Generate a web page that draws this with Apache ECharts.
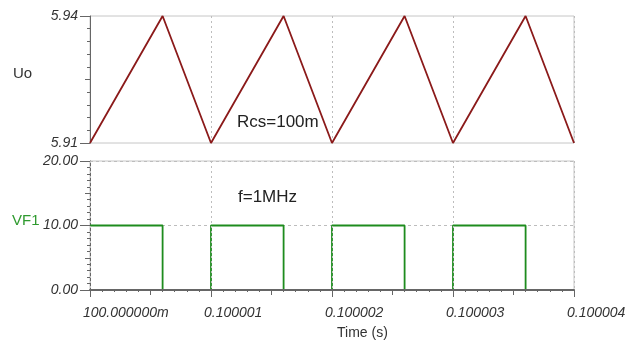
<!DOCTYPE html>
<html>
<head>
<meta charset="utf-8">
<script src="https://cdn.jsdelivr.net/npm/echarts@6/dist/echarts.min.js"></script>
<style>
  html, body { margin: 0; padding: 0; background: #fff; }
  #chart { width: 626px; height: 343px; }
</style>
</head>
<body>
<div id="chart"></div>
<script>
// Time axis in microseconds after t = 100 ms
const xTickLabels = ['100.000000m', '0.100001', '0.100002', '0.100003', '0.100004'];

// Output voltage Uo (V): triangle ripple corners
const uoTime = [0, 0.6, 1, 1.6, 2, 2.6, 3, 3.6, 4];
const uoValue = [5.91, 5.94, 5.91, 5.94, 5.91, 5.94, 5.91, 5.94, 5.91];

// Switch drive VF1 (V): level held from each edge until the next one
const vfTime = [0, 0.6, 1, 1.6, 2, 2.6, 3, 3.6, 4];
const vfValue = [10, 0, 10, 0, 10, 0, 10, 0, 0];

const uoRange = [5.91, 5.94];
const vfRange = [0, 20];

const FONT = '"Liberation Sans", Arial, sans-serif';
const AXIS_DARK = '#666';
const BORDER = '#c6c6c6';
const GRID_LINE = '#bdbdbd';

const chart = echarts.init(document.getElementById('chart'), null, { renderer: 'canvas' });

const labelStyle = { fontFamily: FONT, fontSize: 14, fontStyle: 'italic', color: '#333' };

function pairs(xs, ys) { return xs.map((x, i) => [x, ys[i]]); }

const option = {
  animation: false,
  backgroundColor: '#fff',
  grid: [
    { left: 90, right: 52, top: 16, height: 127, outerBoundsMode: 'none', containLabel: false,
      show: true, borderColor: BORDER, borderWidth: 1, backgroundColor: 'transparent' },
    { left: 90, right: 52, top: 161, height: 129, outerBoundsMode: 'none', containLabel: false,
      show: true, borderColor: BORDER, borderWidth: 1, backgroundColor: 'transparent' }
  ],
  xAxis: [
    { // upper plot time axis: grid lines only
      type: 'value', gridIndex: 0, position: 'bottom', min: 0, max: 4, interval: 1,
      axisLine: { show: false }, axisTick: { show: false }, axisLabel: { show: false },
      splitLine: { show: true, lineStyle: { color: GRID_LINE, type: [2, 3], width: 1 } }
    },
    { // lower plot time axis with labels
      type: 'value', gridIndex: 1, position: 'bottom', offset: 0, min: 0, max: 4, interval: 1, z: 5,
      axisLine: { show: true, lineStyle: { color: AXIS_DARK, width: 2 } },
      axisTick: { show: true, inside: false, length: 7, lineStyle: { color: AXIS_DARK } },
      axisLabel: Object.assign({
        margin: 16, align: 'left', padding: [0, 0, 0, -7],
        formatter: v => xTickLabels[Math.round(v)] || ''
      }, labelStyle),
      splitLine: { show: true, lineStyle: { color: GRID_LINE, type: [2, 3], width: 1 } }
    },
    { // lower plot half and tenth ticks
      type: 'value', gridIndex: 1, position: 'bottom', offset: 0, min: 0, max: 4, interval: 0.5, z: 5,
      axisLine: { show: false },
      axisTick: { show: true, length: 5, lineStyle: { color: AXIS_DARK } },
      minorTick: { show: true, splitNumber: 5, length: 2, lineStyle: { color: AXIS_DARK } },
      axisLabel: { show: false }, splitLine: { show: false }
    }
  ],
  yAxis: [
    { // Uo axis: end labels
      type: 'value', gridIndex: 0, position: 'left', offset: 0, min: uoRange[0], max: uoRange[1], interval: 0.03,
      axisLine: { show: true, lineStyle: { color: AXIS_DARK, width: 1 } },
      axisTick: { show: true, length: 10, lineStyle: { color: AXIS_DARK } },
      axisLabel: Object.assign({ margin: 12, formatter: v => v.toFixed(2) }, labelStyle),
      splitLine: { show: false }
    },
    { // Uo axis: mid and minor ticks
      type: 'value', gridIndex: 0, position: 'left', offset: 0, min: uoRange[0], max: uoRange[1], interval: 0.015,
      axisLine: { show: false },
      axisTick: { show: true, length: 5, lineStyle: { color: AXIS_DARK } },
      minorTick: { show: true, splitNumber: 5, length: 3, lineStyle: { color: AXIS_DARK } },
      axisLabel: { show: false }, splitLine: { show: false }
    },
    { // VF1 axis
      type: 'value', gridIndex: 1, position: 'left', offset: 0, min: vfRange[0], max: vfRange[1], interval: 10,
      axisLine: { show: true, lineStyle: { color: AXIS_DARK, width: 1 } },
      axisTick: { show: true, length: 10, lineStyle: { color: AXIS_DARK } },
      axisLabel: Object.assign({ margin: 12, formatter: v => v.toFixed(2) }, labelStyle),
      splitLine: { show: true, lineStyle: { color: GRID_LINE, type: [3, 3], width: 1 } }
    },
    { // VF1 axis: mid and minor ticks
      type: 'value', gridIndex: 1, position: 'left', offset: 0, min: vfRange[0], max: vfRange[1], interval: 5,
      axisLine: { show: false },
      axisTick: { show: true, length: 5, lineStyle: { color: AXIS_DARK } },
      minorTick: { show: true, splitNumber: 5, length: 3, lineStyle: { color: AXIS_DARK } },
      axisLabel: { show: false }, splitLine: { show: false }
    }
  ],
  series: [
    {
      name: 'Uo', type: 'line', xAxisIndex: 0, yAxisIndex: 0,
      data: pairs(uoTime, uoValue),
      showSymbol: false, symbol: 'none',
      lineStyle: { color: '#8b1a1a', width: 1.8 }
    },
    {
      name: 'VF1', type: 'line', xAxisIndex: 1, yAxisIndex: 2,
      data: pairs(vfTime, vfValue), step: 'end',
      showSymbol: false, symbol: 'none',
      lineStyle: { color: '#1e8c1e', width: 1.8 }
    }
  ],
  graphic: [
    { type: 'text', left: 13, top: 66, style: { text: 'Uo', fontFamily: FONT, fontSize: 15, fill: '#333' } },
    { type: 'text', left: 12, top: 213, style: { text: 'VF1', fontFamily: FONT, fontSize: 15, fill: '#2f9a2f' } },
    { type: 'text', left: 237, top: 114, style: { text: 'Rcs=100m', fontFamily: FONT, fontSize: 17, fill: '#222' } },
    { type: 'text', left: 238, top: 189, style: { text: 'f=1MHz', fontFamily: FONT, fontSize: 17, fill: '#222' } },
    { type: 'text', left: 337, top: 326, style: { text: 'Time (s)', fontFamily: FONT, fontSize: 14, fill: '#333' } }
  ]
};

chart.setOption(option);
</script>
</body>
</html>
